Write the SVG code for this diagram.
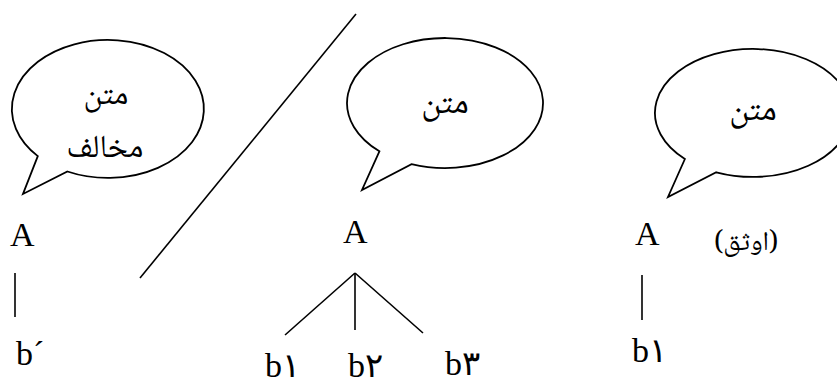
<svg xmlns="http://www.w3.org/2000/svg" width="837" height="380" viewBox="0 0 837 380">
<style>
.bub{fill:#fff;stroke:#000;stroke-width:1.8;stroke-linejoin:miter}
.ln{stroke:#000;stroke-width:1.6;fill:none}
.ar{font-family:"Noto Naskh Arabic","DejaVu Sans","Noto Sans",sans-serif;font-size:34px;fill:#000;text-anchor:middle}
.lt{font-family:"Liberation Serif","Times New Roman","DejaVu Serif",serif;font-size:34px;fill:#000}
</style>
<rect width="837" height="380" fill="#fff"/>
<g id="bubble-left">
<path class="bub" d="M37.8,156.1 L23,194 L67.4,171.5 A96,69 0 1 0 37.8,156.1 Z"/>
<text class="ar" style="font-size:32px" x="106" y="104" direction="rtl">متن</text>
<text class="ar" style="font-size:32px" x="105" y="157" direction="rtl">مخالف</text>
</g>
<g id="bubble-mid">
<path class="bub" d="M379.4,151.3 L362,190 L411.5,164.1 A98,65 0 1 0 379.4,151.3 Z"/>
<text class="ar" x="445" y="113" direction="rtl">متن</text>
</g>
<g id="bubble-right">
<path class="bub" d="M684.9,159 L668,197 L716.3,172.3 A98,64 0 1 0 684.9,159 Z"/>
<text class="ar" x="753" y="120" direction="rtl">متن</text>
</g>
<g id="node-A-left"><text class="lt" x="10" y="246">A</text></g>
<g id="node-b-left"><text class="lt" x="16" y="365">b´</text></g>
<g id="node-A-mid"><text class="lt" x="343" y="243">A</text></g>
<g id="node-b1-mid"><text class="lt" x="265" y="377">b١</text></g>
<g id="node-b2-mid"><text class="lt" x="348" y="377">b٢</text></g>
<g id="node-b3-mid"><text class="lt" x="445" y="375">b٣</text></g>
<g id="node-A-right"><text class="lt" x="635" y="245">A</text></g>
<g id="label-awthaq"><text class="ar" style="font-size:27px;text-anchor:start" x="714" y="250">(اوثق)</text></g>
<g id="node-b1-right"><text class="lt" x="632" y="362">b١</text></g>
<g id="connectors">
<line class="ln" x1="140" y1="278" x2="356" y2="14"/>
<line class="ln" x1="15" y1="273" x2="15" y2="317"/>
<line class="ln" x1="642" y1="275" x2="642" y2="320"/>
<line class="ln" x1="355" y1="273" x2="285" y2="335"/>
<line class="ln" x1="355" y1="273" x2="355" y2="330"/>
<line class="ln" x1="355" y1="273" x2="423" y2="333"/>
</g>
</svg>
